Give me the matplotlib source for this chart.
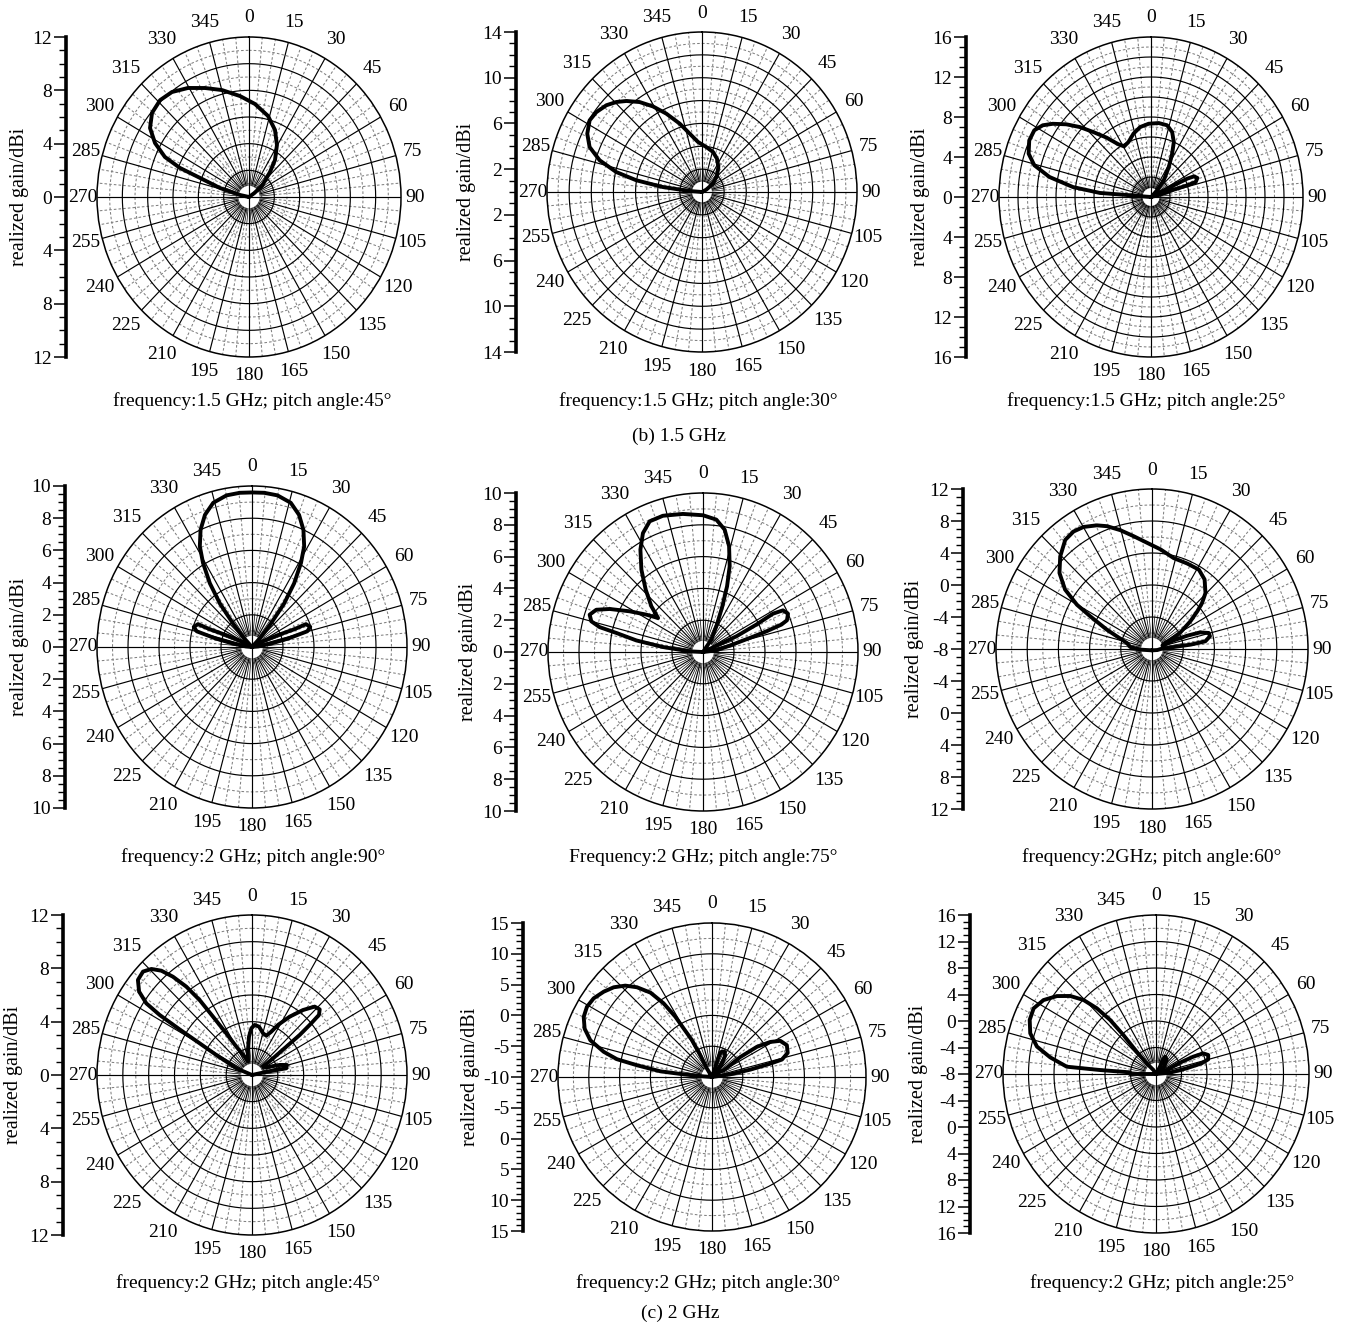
import numpy as np
import matplotlib
matplotlib.use("Agg")
import matplotlib.pyplot as plt
from matplotlib.ticker import FixedLocator

plt.rcParams['font.family'] = ['Liberation Serif', 'DejaVu Serif']
plt.rcParams['font.size'] = 14

# ---------------- data: pattern outlines as ordered (angle, gain) points ----------------
# angle in degrees, clockwise from top; negative values are on the left (e.g. -45 = 315)
angle_tick_labels = [str(a) for a in range(0, 360, 15)]

ang_15_45 = [-90, -78, -73.6, -69.7, -68.2, -65.7, -61.4, -56.5, -50.5, -44, -37.7, -30.5, -23, -14.9,
             -5.3, 3.9, 13.9, 22.2, 29.5, 36.5, 41.5, 51, 55, 60, 90, 180, 270]
gain_15_45 = [0, 0.72, 2.39, 4.12, 5.87, 7.28, 8.45, 9.37, 9.92, 10.1, 9.95, 9.49, 8.88, 8.3,
              7.6, 6.99, 6.26, 5.43, 4.48, 3.45, 2.5, 1.32, 0.5, 0, 0, 0, 0]

ang_15_30 = [-90, -85.7, -83, -80.2, -77.3, -73.3, -68.8, -63.8, -58.3, -53.8, -48.7, -44.5, -40.6, -35.6,
             -30.6, -25.2, -18.6, -12.3, -4.7, 5.7, 15.9, 25, 34, 43, 53.8, 62, 90, 180, 270]
gain_15_30 = [0, 1.12, 3.55, 6.02, 7.94, 9.65, 10.89, 11.55, 11.93, 11.83, 11.5, 11.04, 10.49, 9.68,
              8.7, 7.58, 6.31, 5.23, 4.39, 3.95, 3.64, 3.21, 2.64, 1.99, 1.23, 0.44, 0, 0, 0]

ang_15_25 = [-90, -86, -85.4, -85.7, -83.1, -79.4, -75.5, -71.4, -66.2, -61.5, -57.8, -54.7, -50.8, -47,
             -43.1, -38.2, -33.1, -29.2, -23.3, -16.2, -9.2, -1.9, 6.3, 13.3, 18.9, 23.6, 27.2, 32, 38.9,
             43.6, 55, 63.9, 64, 64.3, 65.5, 68.7, 72.3, 73, 73, 76.4, 85, 180, 270]
gain_15_25 = [0, 0.5, 2.09, 5.39, 8.27, 10.87, 12.69, 13.59, 14.01, 13.98, 13.46, 12.67, 11.5, 10.26,
              8.9, 7.55, 6.29, 5.8, 5.99, 6.6, 7.09, 7.33, 7.44, 7.37, 6.87, 6.0, 4.87, 3.54, 2.14,
              0.92, 0.1, 0.91, 2.67, 4.24, 4.98, 5.24, 4.94, 4.0, 2.51, 1.02, 0, 0, 0]

ang_2_90 = [-90, -85, -80.2, -77.3, -74.7, -71.6, -67.8, -68, -66.1, -62, -55, -47, -43, -40, -37.5, -34.5,
            -31.2, -28.3, -24.5, -20.3, -15.6, -9.9, -4.7, 0, 4.7, 9.9, 15.6, 20.3, 24.5, 28.3, 31.2, 34.5,
            37.5, 40, 43, 47, 55, 62, 66.1, 68, 67.8, 71.6, 74.7, 77.3, 80.2, 85, 90, 180, 270]
gain_2_90 = [0, 0.4, 1.24, 2.4, 3.7, 3.96, 3.76, 2.94, 1.8, 0.66, 0, 0, 0.8, 1.9, 3.4, 4.8,
             6.1, 7.1, 8.0, 8.75, 9.3, 9.56, 9.61, 9.6, 9.61, 9.56, 9.3, 8.75, 8.0, 7.1, 6.1, 4.8,
             3.4, 1.9, 0.8, 0, 0, 0.66, 1.8, 2.94, 3.76, 3.96, 3.7, 2.4, 1.24, 0.4, 0, 0, 0]

ang_2_75 = [-90, -87.3, -83.1, -80.4, -77.9, -76.8, -75, -72.2, -68.9, -65.8, -61.6, -57.3, -53.6, -49.2,
            -43.3, -37.5, -32.1, -27.4, -22.7, -16.8, -8.5, 0, 5.9, 10.3, 14.2, 17.7, 20.6, 23.5, 28.1,
            34.6, 50, 66, 65.4, 63.4, 61.9, 63.1, 66.3, 69.8, 71.2, 72.4, 73.7, 76.9, 83, 90, 180, 270]
gain_2_75 = [0, 0.86, 2.6, 4.36, 5.72, 6.85, 7.46, 7.68, 7.38, 6.6, 5.38, 4.35, 3.6, 4.4,
             5.39, 6.53, 7.6, 8.42, 8.91, 8.95, 8.78, 8.6, 8.37, 7.82, 6.86, 5.66, 4.41, 3.13, 1.83,
             0.94, 0, 0.47, 2.37, 3.85, 5.12, 5.79, 5.99, 5.77, 5.34, 4.29, 3.14, 1.77, 0.87, 0, 0, 0]

ang_2_60 = [-180, -93, -84.9, -76.9, -70.6, -67.3, -62.7, -60.1, -56.3, -51.3, -45.5, -39.2, -34.4, -29.9,
            -24.6, -20.6, -15.3, -9.5, -2.8, 5, 13.7, 22.9, 31.2, 37.8, 44.4, 48.2, 50.9, 54.9, 60.3,
            66.4, 72, 68.8, 69.8, 71.4, 74.6, 77.9, 82, 83.7, 84.9, 90, 100.6, 180]
gain_2_60 = [-7.83, -6.5, -5.2, -4.7, -3.2, -1.7, 0.9, 3.1, 5.4, 7.2, 8.5, 9.6, 9.8, 9.6,
             9.0, 8.4, 7.4, 6.3, 5.3, 4.5, 3.7, 3.6, 3.6, 3.0, 1.8, 0.6, -0.5, -2.0, -3.8,
             -5.9, -6.6, -5.0, -3.2, -1.5, -0.45, -0.4, -1.1, -3.0, -5.2, -6.9, -7.3, -7.83]

ang_2_45 = [-90, -67.4, -61.5, -59.6, -58.6, -57.8, -56.7, -54.4, -51.1, -47.4, -44.4, -41.9, -39.7, -37.5,
            -35.8, -34.6, -32.5, -29.7, -22.4, -17.1, -9.4, -4.6, -0.8, 3.1, 8.5, 15.3, 20.6, 24.7, 28.2,
            33.7, 39, 43.4, 46.8, 49, 49.8, 50.9, 51.4, 52.5, 53.8, 62.6, 70.6, 74.5, 79.3, 78.8, 78,
            90, 180, 270]
gain_2_45 = [0, 1.31, 3.14, 4.7, 6.56, 8.45, 9.79, 10.75, 11.35, 11.46, 11.13, 10.51, 9.58, 8.35,
             6.93, 5.32, 3.7, 2.45, 1.49, 1.05, 1.9, 2.89, 3.5, 3.76, 3.67, 3.24, 3.15, 3.58, 4.26,
             5.26, 6.27, 7.06, 7.19, 6.87, 6.01, 4.76, 3.4, 2.05, 1.06, 1.25, 2.27, 2.81, 2.7, 1.92, 0.87,
             0, 0, 0]

ang_2_30 = [-90, -85.8, -84.7, -83.7, -81.1, -79.4, -76.9, -73.2, -69.2, -64.9, -60.7, -56.4, -51.8, -47.6,
            -43.5, -39.9, -36.1, -33.3, -31.3, -30.3, -28.5, -28.3, -31, 0, 18.4, 18.3, 19.7, 25.6, 31.5,
            36.8, 45, 60.2, 54.8, 56.1, 59, 62.1, 67, 72.3, 76, 77.1, 79.1, 81.7, 90, 180, 270]
gain_2_30 = [-10, -8.65, -5.38, -1.56, 2.33, 5.69, 8.05, 10.63, 12.12, 13.0, 13.28, 13.07, 12.38, 11.6,
             10.45, 8.99, 6.95, 4.3, 1.45, -0.87, -3.2, -6.0, -8.4, -10, -8.3, -6.6, -5.7, -5.4, -5.9,
             -7.3, -9.2, -7.8, -4.4, -1.2, 1.05, 2.55, 3.2, 2.9, 1.7, -0.28, -3.66, -7.0, -10, -10, -10]

ang_2_25 = [-90, -90, -86.5, -86.1, -85.5, -81.4, -77.5, -72.7, -67.6, -62.7, -57.7, -52.9, -48.8, -45.5,
            -43.1, -41.4, -41, -42, -42.3, -34, 0, 29.5, 26.3, 28.3, 37.1, 49.7, 60, 70.3, 65.6, 65.9,
            67.2, 70.7, 74.9, 77.3, 79.9, 84.7, 90, 180, 270]
gain_2_25 = [-8, -3.92, -3.9, 0.78, 6.04, 8.78, 11.13, 12.66, 13.43, 13.6, 12.88, 11.5, 9.88, 7.94,
             5.58, 2.87, -0.2, -3.47, -5.83, -7.27, -8, -6.73, -5.64, -5.03, -5.23, -6.29, -7.7, -6.2, -3.88, -1.6,
             0.04, 0.68, 0.48, -0.68, -3.13, -5.8, -8, -8, -8]

# radial scale of each panel: value at centre, value at rim, label step of the left scale
r_min = [0, 0, 0, 0, 0, -8, 0, -10, -8]
r_max = [12, 14, 16, 10, 10, 12, 12, 15, 16]
label_step = [4, 4, 4, 2, 2, 4, 4, 5, 4]

captions = ["frequency:1.5 GHz; pitch angle:45\u00b0",
            "frequency:1.5 GHz; pitch angle:30\u00b0",
            "frequency:1.5 GHz; pitch angle:25\u00b0",
            "frequency:2 GHz; pitch angle:90\u00b0",
            "Frequency:2 GHz; pitch angle:75\u00b0",
            "frequency:2GHz; pitch angle:60\u00b0",
            "frequency:2 GHz; pitch angle:45\u00b0",
            "frequency:2 GHz; pitch angle:30\u00b0",
            "frequency:2 GHz; pitch angle:25\u00b0"]
group_titles = ["(b) 1.5 GHz", "(c) 2 GHz"]

angles = [ang_15_45, ang_15_30, ang_15_25, ang_2_90, ang_2_75, ang_2_60, ang_2_45, ang_2_30, ang_2_25]
gains = [gain_15_45, gain_15_30, gain_15_25, gain_2_90, gain_2_75, gain_2_60, gain_2_45, gain_2_30, gain_2_25]

# ---------------- layout (pixels) ----------------
W, H = 1359, 1329
# centre x, centre y, radius x, radius y, left-scale x, ylabel x, caption x, caption y, ring step
layout = [
    (249, 197, 152, 160, 66, 20, 252, 401, 2),
    (702, 192, 155, 160, 516, 467, 698, 401, 2),
    (1151, 197, 152, 160, 966, 920, 1146, 401, 2),
    (252, 647, 155, 161, 65, 20, 253, 857, 2),
    (703, 652, 155, 159, 516, 468, 703, 857, 2),
    (1152, 649, 156, 160, 963, 915, 1152, 857, 4),
    (252, 1075, 155, 160, 63, 14, 248, 1283, 2),
    (712, 1077, 154, 154, 523, 470, 708, 1283, 5),
    (1156, 1074, 153, 159, 970, 918, 1162, 1283, 4),
]
group_pos = [(679, 436), (680, 1313)]

fig = plt.figure(figsize=(W / 100, H / 100), dpi=100)

SOLID = dict(color='black', lw=0.85, zorder=2, solid_capstyle='butt')
INNER = dict(color='black', lw=0.5, zorder=2, solid_capstyle='butt')
DASH = dict(color='#808080', lw=0.75, ls=(0, (2.5, 2)), zorder=1)
full = np.linspace(0, 2 * np.pi, 721)

for i in range(9):
    cx, cy, rx, ry, sx, lx, capx, capy, ring = layout[i]
    rmin, rmax = r_min[i], r_max[i]
    R = rmax - rmin
    N = int(round(R / ring))

    ax = fig.add_axes([(cx - rx) / W, 1 - (cy + ry) / H, 2 * rx / W, 2 * ry / H],
                      projection='polar')
    ax.set_aspect('auto')
    ax.set_theta_zero_location('N')
    ax.set_theta_direction(-1)
    ax.set_ylim(rmin, rmax)
    ax.grid(False)
    ax.set_xticks([])
    ax.set_yticks([])
    ax.spines['polar'].set_linewidth(1.1)

    hole = rmin + R * min(0.07, 0.9 / (2 * N))
    first = rmin + R / N
    for k in range(1, N):
        ax.plot(full, np.full_like(full, rmin + k * R / N), **SOLID)
    for k in range(N):
        ax.plot(full, np.full_like(full, rmin + (k + 0.5) * R / N), **DASH)
    for a in range(0, 360, 5):
        t = np.deg2rad(a)
        if a % 90 == 0:
            ax.plot([t, t], [rmin, rmax], **SOLID)
        elif a % 15 == 0:
            ax.plot([t, t], [hole, rmax], **SOLID)
        else:
            ax.plot([t, t], [hole, first], **INNER)
            ax.plot([t, t], [first, rmax], **DASH)

    ax.plot(np.deg2rad(angles[i]), gains[i], color='black', lw=2.8, zorder=5,
            solid_joinstyle='round', solid_capstyle='round')

    for a, lab in zip(range(0, 360, 15), angle_tick_labels):
        t = np.deg2rad(a)
        d = 19 + 4 * abs(np.sin(2 * t)) - 5 * abs(np.sin(t)) ** 6
        ax.annotate(lab, xy=(t, rmax), xytext=(d * np.sin(t), d * np.cos(t)),
                    textcoords='offset pixels', ha='center', va='center',
                    annotation_clip=False, fontsize=14)

    sax = fig.add_axes([sx / W, 1 - (cy + ry) / H, 0.0005, 2 * ry / H])
    sax.set_ylim(-R, R)
    sax.set_xlim(0, 1)
    for s in ['top', 'right', 'bottom']:
        sax.spines[s].set_visible(False)
    sax.spines['left'].set_linewidth(2.6)
    sax.patch.set_visible(False)
    sax.set_xticks([])
    ds = [rmax - k * label_step[i] - rmin for k in range(int(R // label_step[i]) + 1)]
    ds = [d for d in ds if d >= 0]
    ticks = sorted(set(ds + [-d for d in ds]))
    sax.set_yticks(ticks)
    sax.set_yticklabels([f"{rmin + abs(t):g}" for t in ticks])
    minor_step = label_step[i] / 4 if label_step[i] != 5 else 1
    sax.yaxis.set_minor_locator(FixedLocator(np.arange(-R, R + 1e-9, minor_step)))
    sax.tick_params(axis='y', which='major', length=9, width=1.1, pad=1, labelsize=14)
    sax.tick_params(axis='y', which='minor', length=5, width=1.0)

    fig.text(lx / W, 1 - cy / H, "realized gain/dBi", rotation=90, ha='center', va='center',
             fontsize=14.5)
    fig.text(capx / W, 1 - capy / H, captions[i], ha='center', va='center', fontsize=14)

for (gx, gy), title in zip(group_pos, group_titles):
    fig.text(gx / W, 1 - gy / H, title, ha='center', va='center', fontsize=14)

fig.savefig("out.png", dpi=100)
